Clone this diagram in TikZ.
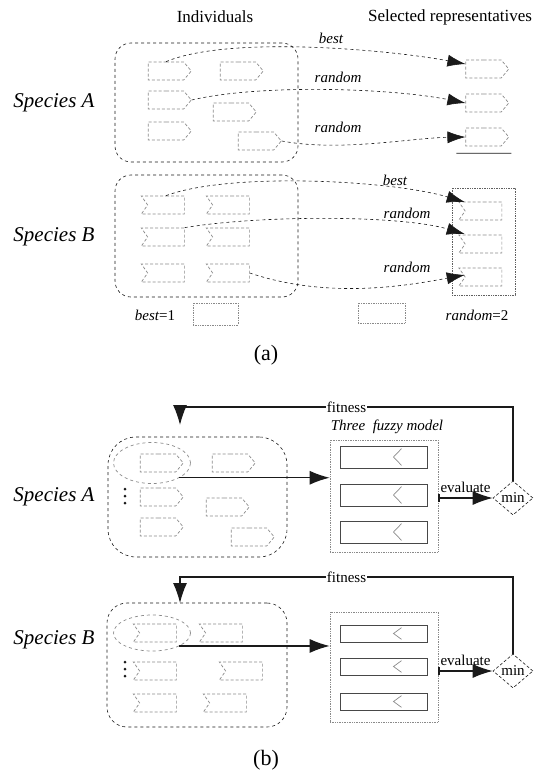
\documentclass[tikz,border=0pt]{standalone}
\usepackage{fontspec}
\setmainfont{Liberation Serif}
\usetikzlibrary{arrows.meta,positioning,calc,shapes.symbols,shapes.geometric}
\definecolor{Ink}{HTML}{1A1A1A}
\definecolor{Faint}{HTML}{8A8A8A}
\tikzset{
  grp/.style={draw=Ink,dashed,line width=.6pt,rounded corners=16pt,inner sep=0pt},
  indA/.style={draw=Faint,densely dashed,line width=.7pt,shape=signal,signal to=east,signal pointer angle=100,minimum width=43pt,minimum height=18pt,inner sep=0pt},
  indB/.style={draw=Faint,densely dashed,line width=.7pt,shape=signal,signal to=nowhere,signal from=west,signal pointer angle=110,minimum width=43pt,minimum height=18pt,inner sep=0pt},
  plainbox/.style={draw=Faint,densely dotted,line width=.7pt,inner sep=0pt},
  pick/.style={-{Latex[length=18pt,width=12pt]},draw=Ink,dashed,line width=.6pt},
  feed/.style={-{Latex[length=20pt,width=14pt]},draw=Ink,line width=1.2pt},
  sel/.style={draw=Faint,dashed,line width=.7pt,ellipse,inner sep=0pt},
  minnode/.style={draw=Ink,densely dashed,line width=.6pt,diamond,minimum width=40pt,minimum height=34pt,inner sep=0pt,font=\fontsize{15}{15}\selectfont},
  species/.style={font=\fontsize{21}{21}\selectfont\itshape},
  head/.style={font=\fontsize{17}{17}\selectfont},
  lbl/.style={font=\fontsize{15}{15}\selectfont\itshape},
  capt/.style={font=\fontsize{22}{22}\selectfont}
}
\begin{document}
\begin{tikzpicture}[x=1pt,y=-1pt]
  \useasboundingbox (0,0) rectangle (534,778);
  % (a) selection of representatives
  \node[head] (hind) at (215,17) {Individuals};
  \node[head] (hrep) at (450,17) {Selected representatives};
  \node[species] (spA) at (54,103) {Species A};
  \node[species] (spB) at (54,237) {Species B};

  \node[grp,minimum width=183pt,minimum height=119pt] (sA) at (206.5,102.5) {};
  \node[grp,minimum width=183pt,minimum height=122pt] (sB) at (206.5,236) {};

  \foreach \n/\x/\y in {1/166/71,2/238/71,3/166/100,4/231/112,5/166/131,6/256/141}
    \node[indA] (iA\n) at (\x,\y) {};
  \foreach \n/\x/\y in {1/166/205,2/231/205,3/166/237,4/231/237,5/166/273,6/231/273}
    \node[indB] (iB\n) at (\x,\y) {};

  \foreach \n/\y in {1/69,2/103,3/137}
    \node[indA] (rA\n) at (483.5,\y) {};
  \draw[draw=Ink,line width=.8pt] ([xshift=-9pt,yshift=-7pt]rA3.south west) -- ([xshift=10pt,yshift=-7pt]rA3.south east);
  \node[plainbox,draw=Ink!70,minimum width=63pt,minimum height=107pt] (repB) at (483.5,241.5) {};
  \foreach \n/\y in {1/211,2/244,3/277}
    \node[indB] (rB\n) at (483.5,\y) {};

  \draw[pick] (iA1.north) .. controls (230,35) and (390,50) .. ([yshift=5pt]rA1.west);
  \draw[pick] (iA3.east) .. controls (260,84) and (390,88) .. (rA2.west);
  \draw[pick] (iA6.east) .. controls (340,152) and (410,138) .. (rA3.west);
  \draw[pick] (iB1.north) .. controls (230,172) and (390,180) .. ([yshift=9pt]rB1.west);
  \draw[pick] (iB3.north east) .. controls (260,215) and (400,215) .. ([yshift=10pt]rB2.west);
  \draw[pick] (iB6.east) .. controls (330,300) and (410,285) .. ([yshift=2pt]rB3.west);

  \node[lbl] (lbest) at (331,38) {best};
  \node[lbl] (lr1) at (338,77) {random};
  \node[lbl] (lr2) at (338,127) {random};
  \node[lbl] (lbestB) at (395,180) {best};
  \node[lbl] (lr3) at (407,213) {random};
  \node[lbl] (lr4) at (407,267) {random};

  \node[lbl] (kbest) at (155,315) {best\upshape=1};
  \node[plainbox,minimum width=45pt,minimum height=22pt] (lg1) at (215.5,314) {};
  \node[plainbox,minimum width=47pt,minimum height=20pt] (lg2) at (381.5,313) {};
  \node[lbl] (krand) at (477,315) {random\upshape=2};
  \node[capt] (capa) at (266,355) {(a)};

  % (b) evaluation with the fuzzy model
  \node[species] (spA2) at (54,497) {Species A};
  \node[species] (spB2) at (54,640) {Species B};

  \node[grp,rounded corners=28pt,minimum width=179pt,minimum height=120pt] (pA) at (197.5,497) {};
  \node[grp,rounded corners=20pt,minimum width=180pt,minimum height=124pt] (pB) at (197,665) {};

  \node[sel,minimum width=77pt,minimum height=41pt] (eA) at (152,463) {};
  \node[sel,minimum width=77pt,minimum height=36pt] (eB) at (152,633) {};
  \foreach \n/\x/\y in {1/158/463,2/230/463,3/158/497,4/224/507,5/158/527,6/249/537}
    \node[indA] (jA\n) at (\x,\y) {};
  \foreach \n/\x/\y in {1/158/633,2/224/633,3/158/671,4/244/671,5/158/703,6/228/703}
    \node[indB] (jB\n) at (\x,\y) {};
  \foreach \y in {489,496,503}
    \fill[Ink] (125,\y) circle (1.5pt);
  \foreach \y in {662,669,676}
    \fill[Ink] (125,\y) circle (1.5pt);

  \node[plainbox,minimum width=108pt,minimum height=112pt] (fA) at (384,496) {};
  \node[plainbox,minimum width=108pt,minimum height=110pt] (fB) at (384,667) {};
  \node[lbl] (ftree) at (387,427) {Three\ \ fuzzy model};
  \foreach \n/\y in {1/457,2/495,3/532}
    \node[plainbox,draw=Ink!80,solid,minimum width=87pt,minimum height=22pt] (fA\n) at (383.5,\y) {};
  \foreach \n/\y in {1/633.5,2/666.5,3/701.5}
    \node[plainbox,draw=Ink!80,solid,minimum width=87pt,minimum height=17pt] (fB\n) at (383.5,\y) {};
  \foreach \r in {fA1,fA2,fA3,fB1,fB2,fB3}
    \draw[draw=Faint,line width=.7pt] ([xshift=18pt,yshift=-3pt]\r.north) -- ([xshift=10pt]\r.center) -- ([xshift=18pt,yshift=3pt]\r.south);

  \node[minnode] (mA) at (513,498) {min};
  \node[minnode] (mB) at (513,671) {min};

  \coordinate (tipA) at (180,425);
  \coordinate (tipB) at (180,603);
  \draw[feed] (mA.north) -- (mA.north |- 0,407) -- node[fill=white,inner sep=1pt,font=\fontsize{15}{15}\selectfont]{fitness} (tipA |- 0,407) -- (tipA);
  \draw[feed] (mB.north) -- (mB.north |- 0,577) -- node[fill=white,inner sep=1pt,font=\fontsize{15}{15}\selectfont]{fitness} (tipB |- 0,577) -- (tipB);

  \draw[feed] (eA.south east) -- (eA.south east -| fA.west);
  \draw[feed] (eB.south east) -- (eB.south east -| fB.west);

  \draw[feed,{Bar[width=8pt]}-{Latex[length=20pt,width=14pt]}] (fA.east |- mA.west) -- node[above=1pt,font=\fontsize{15}{15}\selectfont]{evaluate} (mA.west);
  \draw[feed,{Bar[width=8pt]}-{Latex[length=20pt,width=14pt]}] (fB.east |- mB.west) -- node[above=1pt,font=\fontsize{15}{15}\selectfont]{evaluate} (mB.west);

  \node[capt] (capb) at (266,760) {(b)};
\end{tikzpicture}
\end{document}
